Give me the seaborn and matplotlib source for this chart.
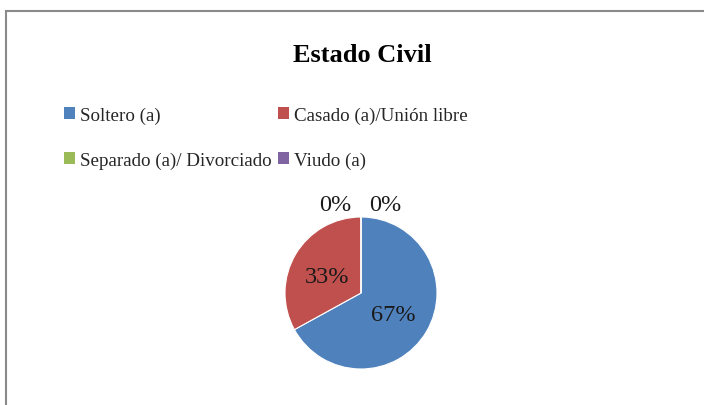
import matplotlib
matplotlib.use("Agg")
import matplotlib.pyplot as plt
import matplotlib.patches as mpatches
import seaborn as sns

categories = ["Soltero (a)", "Casado (a)/Unión libre", "Separado (a)/ Divorciado", "Viudo (a)"]
values = [67, 33, 0, 0]
colors = ["#4F81BD", "#C0504D", "#9BBB59", "#8064A2"]

sns.set_theme(style="white")
plt.rcParams["font.family"] = ["Liberation Serif", "DejaVu Serif"]

W, H = 704, 406
fig = plt.figure(figsize=(W / 100, H / 100), dpi=100)

# chart frame
fig.patches.append(mpatches.Rectangle((6 / W, -0.1), 1.2, 1 - 12 / H + 0.1,
                                      transform=fig.transFigure, fill=False,
                                      edgecolor="#8a8a8a", linewidth=1.5))

fig.text(362 / W, 1 - 55 / H, "Estado Civil", ha="center", va="center",
         fontsize=19, fontweight="bold", color="black")

# pie
cx, cy, r = 361, 294, 76
ax = fig.add_axes([(cx - r) / W, (H - cy - r) / H, 2 * r / W, 2 * r / H])
wedges, _ = ax.pie(values, colors=colors, startangle=90, counterclock=False,
                   radius=1, center=(0, 0),
                   wedgeprops=dict(edgecolor="white", linewidth=0.8))
ax.set_xlim(-1, 1)
ax.set_ylim(-1, 1)
ax.axis("off")

total = sum(values)
label_pos = [(0.42, -0.28), (-0.45, 0.22), (-0.34, 1.17), (0.32, 1.17)]
for v, (x, y) in zip(values, label_pos):
    ax.text(x, y, f"{round(100 * v / total)}%", ha="center", va="center",
            fontsize=17.5, color="#1a1a1a", clip_on=False)

# legend filled row by row
order = [0, 2, 1, 3]
handles = [mpatches.Patch(facecolor=colors[i], edgecolor="none") for i in order]
labels = [categories[i] for i in order]
fig.legend(handles, labels, ncol=2, loc="upper left",
           bbox_to_anchor=(54 / W, 1 - 98 / H), frameon=False,
           fontsize=13.7, handlelength=0.6, handleheight=0.6,
           handletextpad=0.25, columnspacing=0.35, labelspacing=1.45,
           borderpad=0)

fig.savefig("out.png", dpi=100)
